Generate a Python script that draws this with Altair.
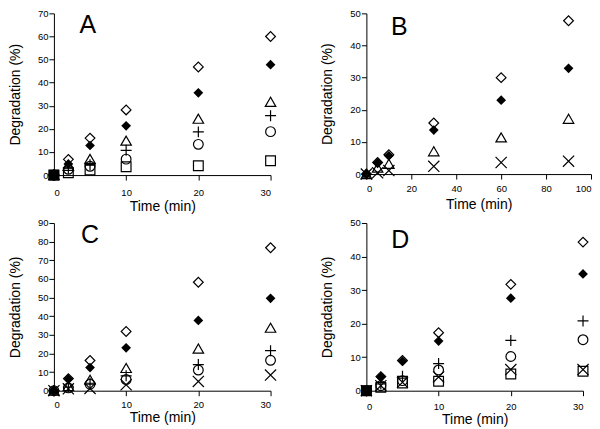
import altair as alt
import pandas as pd

# ---------------- data ----------------
# Panel A
a_time = [0, 2, 5, 10, 20, 30]
a_open_diamond = [0, 6.8, 16, 28.2, 46.8, 60]
a_filled_diamond = [0, 4.8, 12.8, 21.3, 35.6, 47.8]
a_triangle = [0, 4, 7, 14.9, 24.4, 31.7]
a_plus = [0, 3, 4.5, 10.7, 18.7, 25.7]
a_circle = [0, 2.5, 3.8, 6.9, 13.3, 18.8]
a_square = [0, 1, 2.2, 3.6, 4, 6.2]
a_control_time = [0]
a_control = [0]

# Panel B
b_time = [0, 5, 10, 30, 60, 90]
b_open_diamond = [0, 3.6, 6, 15.9, 30, 47.7]
b_filled_diamond = [0, 3.5, 5.7, 13.7, 23, 32.9]
b_triangle = [0, 2, 3.2, 7.1, 11.4, 17.2]
b_cross = [0, 0.4, 1.1, 2.4, 3.6, 4]

# Panel C
c_time = [0, 2, 5, 10, 20, 30]
c_open_diamond = [0, 6.5, 16.2, 31.8, 58.2, 76.7]
c_filled_diamond = [0, 6.3, 12.4, 23, 37.7, 49.6]
c_triangle = [0, 2.5, 5.9, 12.2, 22.6, 33.8]
c_plus = [0, 2, 4, 8, 14, 21.5]
c_circle = [0, 1.5, 3.5, 6, 11.1, 16.3]
c_cross = [0, 1, 1.2, 3.2, 5, 8.4]

# Panel D
d_time = [0, 2, 5, 10, 20, 30]
d_open_diamond = [0, 4.2, 9, 17.3, 31.7, 44.3]
d_filled_diamond = [0, 4.1, 8.8, 14.8, 27.6, 34.8]
d_plus = [0, 2, 4.3, 8.1, 15, 20.8]
d_circle = [0, 1.5, 3, 6.2, 10.2, 15.2]
d_cross = [0, 1.5, 2.5, 4.1, 6.3, 6.3]
d_square = [0, 1, 2.3, 2.8, 5, 5.8]
d_control_time = [0]
d_control = [0]

# panel letters, placed in data coordinates
letters = ["A", "B", "C", "D"]
letter_x = [4.7, 14.7, 5.0, 4.7]
letter_y = [61.5, 43.2, 79.5, 42.5]

# ---------------- marker styles ----------------
PLUS = "M-1,0L1,0M0,-1L0,1"
XSHAPE = "M-1,-1L1,1M-1,1L1,-1"
STYLES = {
    "open_diamond": dict(shape="diamond", filled=False, size=95),
    "filled_diamond": dict(shape="diamond", filled=True, size=95),
    "triangle": dict(shape="triangle-up", filled=False, size=110),
    "plus": dict(shape=PLUS, filled=False, size=121),
    "circle": dict(shape="circle", filled=False, size=95),
    "square": dict(shape="square", filled=False, size=95),
    "cross": dict(shape=XSHAPE, filled=False, size=125),
    "control": dict(shape="square", filled=True, size=110),
}


def panel(letter_idx, series, xmax, xstep, ymax, ystep, width, height,
          xlab_pad, xtitle_pad):
    xs = alt.X("time:Q", scale=alt.Scale(domain=[0, xmax], nice=False),
               axis=alt.Axis(title="Time (min)", values=list(range(0, xmax + 1, xstep)),
                             labelPadding=xlab_pad, titlePadding=xtitle_pad,
                             titleFontWeight="normal"))
    ys = alt.Y("value:Q", scale=alt.Scale(domain=[0, ymax], nice=False),
               axis=alt.Axis(title="Degradation (%)", values=list(range(0, ymax + 1, ystep)),
                             labelPadding=1, titlePadding=15, titleFontWeight="normal"))
    layers = []
    for name, t, v in series:
        st = STYLES[name]
        df = pd.DataFrame({"time": t, "value": v})
        layers.append(
            alt.Chart(df).mark_point(
                shape=st["shape"], filled=st["filled"], size=st["size"],
                color="black", strokeWidth=1.2, opacity=1,
            ).encode(x=xs, y=ys)
        )
    ldf = pd.DataFrame({"time": [letter_x[letter_idx]],
                        "value": [letter_y[letter_idx]],
                        "label": [letters[letter_idx]]})
    layers.append(
        alt.Chart(ldf).mark_text(font="Liberation Sans", fontSize=25, align="center",
                                 baseline="alphabetic", color="black")
        .encode(x=xs, y=ys, text="label:N")
    )
    return alt.layer(*layers).properties(width=width, height=height)


pA = panel(0, [
    ("open_diamond", a_time, a_open_diamond),
    ("filled_diamond", a_time, a_filled_diamond),
    ("triangle", a_time, a_triangle),
    ("plus", a_time, a_plus),
    ("circle", a_time, a_circle),
    ("square", a_time, a_square),
    ("control", a_control_time, a_control),
], 30, 10, 70, 10, 217, 162, 7.5, 2)

pB = panel(1, [
    ("open_diamond", b_time, b_open_diamond),
    ("filled_diamond", b_time, b_filled_diamond),
    ("triangle", b_time, b_triangle),
    ("cross", b_time, b_cross),
], 100, 20, 50, 10, 225, 161, 4.3, 4.2)

pC = panel(2, [
    ("open_diamond", c_time, c_open_diamond),
    ("filled_diamond", c_time, c_filled_diamond),
    ("triangle", c_time, c_triangle),
    ("plus", c_time, c_plus),
    ("circle", c_time, c_circle),
    ("cross", c_time, c_cross),
], 30, 10, 90, 10, 217, 168, 4.3, 0.9)

pD = panel(3, [
    ("open_diamond", d_time, d_open_diamond),
    ("filled_diamond", d_time, d_filled_diamond),
    ("plus", d_time, d_plus),
    ("circle", d_time, d_circle),
    ("square", d_time, d_square),
    ("cross", d_time, d_cross),
    ("control", d_control_time, d_control),
], 30, 10, 50, 10, 217, 168, 6.3, 1)

chart = alt.vconcat(
    alt.hconcat(pA, pB, spacing=42),
    alt.hconcat(pC, pD, spacing=42),
    spacing=5,
).properties(
    padding={"left": 0, "top": 0, "right": 0, "bottom": 0},
    background="white",
).configure_axis(
    domainColor="black", tickColor="black", tickSize=5, tickWidth=1, domainWidth=1,
    labelFont="Liberation Sans", labelFontSize=9.5, labelColor="black",
    titleFont="Liberation Sans", titleFontSize=14, titleFontWeight="normal",
    titleColor="black", grid=False,
).configure_view(stroke=None)

chart.save("out.html", embed_options={"renderer": "svg", "actions": False})
